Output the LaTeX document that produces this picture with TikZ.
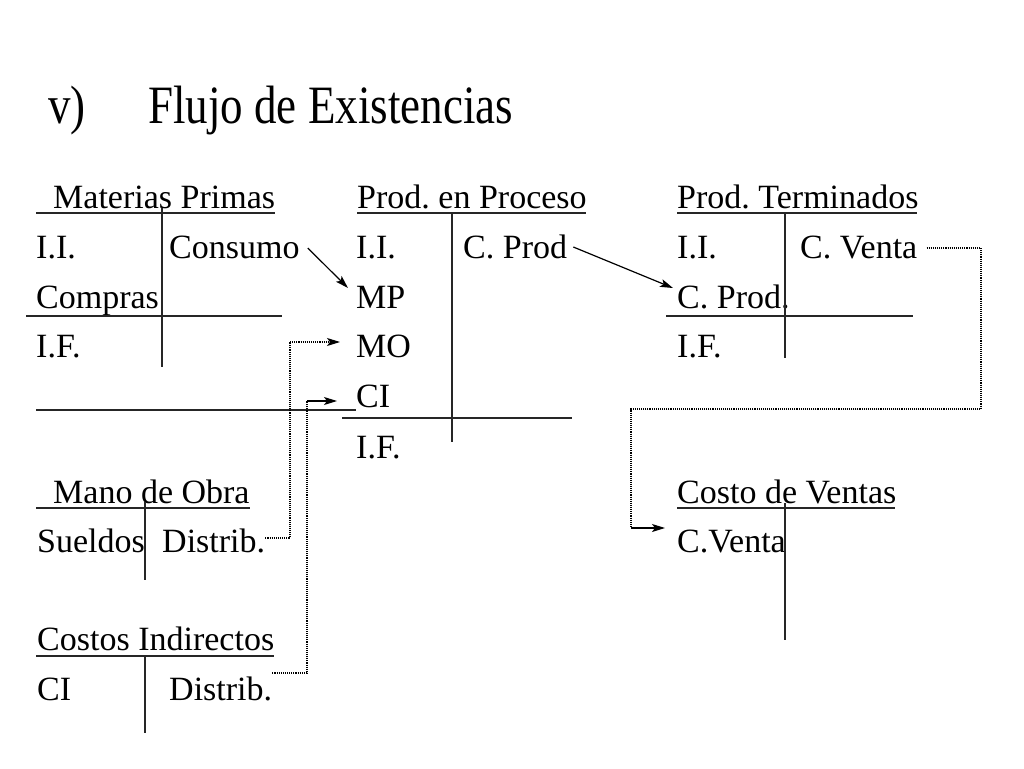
\documentclass[tikz,border=0pt]{standalone}
\usepackage{fontspec}
\setmainfont{Liberation Serif}
\usetikzlibrary{arrows.meta}
\frenchspacing
\tikzset{
    mytext/.style = {anchor=base west, inner sep=0pt, font=\fontsize{34}{40}\selectfont},
    mytitle/.style = {anchor=base west, inner sep=0pt, yscale=1.2, transform shape, font=\fontsize{45}{54}\selectfont},
    myline/.style = {line width=1.6pt, black!85},
    myarrow/.style = {line width=1.2pt, -{Stealth[length=13pt,width=8pt,inset=3pt]}},
    mydots/.style = {line width=1.1pt, densely dotted},
}

\begin{document}
\begin{tikzpicture}[x=1pt, y=-1pt]
  \useasboundingbox[fill=white] (0,0) rectangle (1024,768);
  % title
  \node[mytitle] (num) at (48,123) {v)};
  \node[mytitle] (title) at (148,123) {Flujo de Existencias};
  % materias primas
  \node[mytext] (mp) at (53,208) {Materias Primas};
  \node[mytext] (mpii) at (36,258) {I.I.};
  \node[mytext] (consumo) at (169,258) {Consumo};
  \node[mytext] (compras) at (36,308) {Compras};
  \node[mytext] (mpif) at (36,357) {I.F.};
  \draw[myline] (36,213) -- (275,213);
  \draw[myline] (162,208) -- (162,367);
  \draw[myline] (26,316) -- (282,316);
  \draw[myline] (36,410) -- (356,410);
  % prod. en proceso
  \node[mytext] (pp) at (357,208) {Prod. en Proceso};
  \node[mytext] (ppii) at (356,258) {I.I.};
  \node[mytext] (cprod) at (463,258) {C. Prod};
  \node[mytext] (ppmp) at (356,308) {MP};
  \node[mytext] (ppmo) at (356,357) {MO};
  \node[mytext] (ppci) at (356,407) {CI};
  \node[mytext] (ppif) at (356,458) {I.F.};
  \draw[myline] (357,213) -- (586,213);
  \draw[myline] (452,213) -- (452,442);
  \draw[myline] (342,418) -- (572,418);
  % prod. terminados
  \node[mytext] (pt) at (677,208) {Prod. Terminados};
  \node[mytext] (ptii) at (677,258) {I.I.};
  \node[mytext] (cventa) at (800,258) {C. Venta};
  \node[mytext] (ptcprod) at (677,308) {C. Prod.};
  \node[mytext] (ptif) at (677,357) {I.F.};
  \draw[myline] (677,213) -- (917,213);
  \draw[myline] (785,213) -- (785,358);
  \draw[myline] (666,316) -- (913,316);
  % mano de obra
  \node[mytext] (mo) at (53,503) {Mano de Obra};
  \node[mytext] (sueldos) at (37,552) {Sueldos};
  \node[mytext] (modist) at (162,552) {Distrib.};
  \draw[myline] (36,508) -- (250,508);
  \draw[myline] (145,502) -- (145,580);
  % costos indirectos
  \node[mytext] (ci) at (37,650) {Costos Indirectos};
  \node[mytext] (cici) at (37,700) {CI};
  \node[mytext] (cidist) at (169,700) {Distrib.};
  \draw[myline] (36,656) -- (274,656);
  \draw[myline] (145,657) -- (145,733);
  % costo de ventas
  \node[mytext] (cv) at (677,503) {Costo de Ventas};
  \node[mytext] (cvventa) at (677,552) {C.Venta};
  \draw[myline] (677,508) -- (895,508);
  \draw[myline] (785,503) -- (785,640);
  % flujos
  \draw[myarrow] ([shift={(8,-10)}]consumo.base east) -- ([shift={(-8,-20)}]ppmp.base west);
  \draw[myarrow] ([shift={(6,-11)}]cprod.base east) -- ([shift={(-4,-20)}]ptcprod.base west);
  \coordinate (moa) at (290,538);
  \coordinate (mob) at (290,342);
  \draw[mydots] ([shift={(0,-14)}]modist.base east) -- (moa) -- (mob);
  \draw[mydots, -{Stealth[length=13pt,width=8pt,inset=3pt]}] (mob) -- ([shift={(-16,-15)}]ppmo.base west);
  \coordinate (cia) at (307,673);
  \coordinate (cib) at (307,401);
  \draw[mydots] ([shift={(0,-27)}]cidist.base east) -- (cia) -- (cib);
  \draw[myarrow] (cib) -- ([shift={(-19,-6)}]ppci.base west);
  \coordinate (cva) at (981,248);
  \coordinate (cvb) at (981,409);
  \coordinate (cvc) at (631,409);
  \coordinate (cvd) at (631,528);
  \draw[mydots] ([shift={(9,-10)}]cventa.base east) -- (cva) -- (cvb) -- (cvc) -- (cvd);
  \draw[myarrow] (cvd) -- ([shift={(-12,-24)}]cvventa.base west);
\end{tikzpicture}
\end{document}
